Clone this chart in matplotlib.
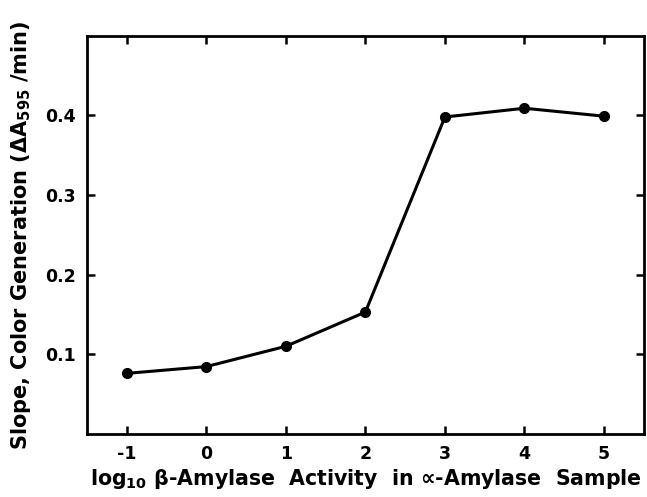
import matplotlib
matplotlib.use('Agg')
from matplotlib import pyplot as plt

log_beta = [-1, 0, 1, 2, 3, 4, 5]
slope = [0.076, 0.0845, 0.110, 0.153, 0.398, 0.409, 0.399]

x_ticks = [-1, 0, 1, 2, 3, 4, 5]
x_ticklabels = ['-1', '0', '1', '2', '3', '4', '5']
y_ticks = [0.1, 0.2, 0.3, 0.4]
y_ticklabels = ['0.1', '0.2', '0.3', '0.4']

plt.rcParams['font.family'] = ['DejaVu Sans']

fig = plt.figure(figsize=(6.47, 4.97), dpi=100)
ax = fig.add_axes([0.1345, 0.127, 0.8605, 0.801])

ax.plot(log_beta, slope, color='black', linewidth=2.2,
        marker='o', markersize=7)

ax.set_xlim(-1.5, 5.5)
ax.set_ylim(0, 0.5)
ax.set_xticks(x_ticks)
ax.set_xticklabels(x_ticklabels, fontweight='bold', fontsize=12.5)
ax.set_yticks(y_ticks)
ax.set_yticklabels(y_ticklabels, fontweight='bold', fontsize=12.5)

ax.tick_params(direction='in', top=True, right=True, length=6, width=1.8, pad=8)
for s in ax.spines.values():
    s.set_linewidth(2)

ax.set_xlabel(r'log$_{\mathbf{10}}$ $\mathbf{\beta}$-Amylase  Activity  in ∝-Amylase  Sample',
              fontsize=14.8, fontweight='bold', labelpad=3)
ax.set_ylabel(r'Slope, Color Generation ($\mathbf{\Delta A_{595}}$ /min)',
              fontsize=15, fontweight='bold', labelpad=9)

plt.savefig('out.png', dpi=100)
